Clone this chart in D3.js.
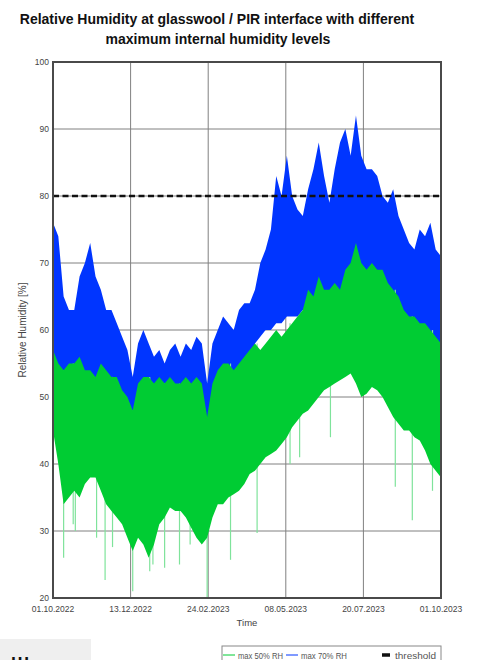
<!DOCTYPE html>
<html>
<head>
<meta charset="utf-8">
<script src="https://cdn.jsdelivr.net/npm/d3@7"></script>
<style>
  body { margin: 0; background: #fff; }
  text { font-family: "Liberation Sans", Arial, sans-serif; }
</style>
</head>
<body>
<svg id="chart" width="479" height="660"></svg>
<script>
// sample step in days, series (local low / high per 5 days)
var stepDays = 5
var startDate = new Date(2022, 9, 1)
var endDate = new Date(2023, 9, 1)

var blueHi = [76, 74, 65, 63, 63, 68, 70, 73, 68, 66, 63, 63, 61, 59, 57, 53, 58, 60, 58, 56,
  57, 55, 57, 58, 56, 58, 57, 59, 58, 52, 58, 60, 62, 61, 60, 63, 64, 64, 66, 70,
  72, 75, 83, 80, 86, 80, 78, 77, 81, 84, 88, 83, 79, 84, 88, 90, 86, 92, 86, 84,
  84, 83, 80, 79, 81, 77, 75, 73, 72, 75, 74, 76, 72, 71]
var blueLo = [54, 52, 51, 52, 52, 53, 51, 51, 50, 52, 51, 50, 50, 48, 47, 45, 49, 50, 50, 49,
  50, 49, 50, 49, 49, 50, 49, 50, 49, 45, 49, 51, 52, 52, 51, 52, 53, 55, 58, 59,
  60, 60, 61, 61, 62, 62, 62, 63, 63, 63, 64, 64, 64, 64, 64, 65, 65, 66, 65, 64,
  64, 64, 63, 63, 62, 61, 60, 59, 58, 58, 57, 56, 55, 55]
var greenHi = [57, 55, 54, 55, 55, 56, 54, 54, 53, 55, 54, 53, 53, 51, 50, 48, 52, 53, 53, 52,
  53, 52, 53, 52, 52, 53, 52, 53, 52, 47, 52, 54, 55, 55, 54, 55, 56, 57, 58, 57,
  58, 59, 60, 59, 60, 61, 62, 63, 66, 65, 68, 66, 66, 67, 66, 69, 70, 73, 70, 69,
  70, 69, 69, 67, 66, 65, 63, 62, 62, 61, 61, 60, 59, 58]
var greenLo = [45, 40, 34, 35, 36, 35, 37, 38, 38, 36, 34, 33, 32, 31, 29, 27, 29, 28, 26, 28,
  31, 32, 33.5, 33, 33, 32, 30.5, 29, 28, 29, 32, 34, 34, 35, 35.5, 36, 37, 38.5, 39, 40,
  41, 41.5, 42, 43, 44, 45.5, 46.5, 47.5, 48, 49, 50, 51, 51.5, 52, 52.5, 53, 53.5, 52, 50, 50.5,
  51.5, 51, 50, 48.5, 47, 46, 45, 45, 44, 43.5, 42, 40, 39, 38]

// single deep dips of the 50% run (day offset, value)
var dipDays = [10, 19, 21, 41, 49, 56, 75, 91, 94, 105, 119, 129, 145, 167, 192, 223, 232, 261, 322, 338, 357]
var dipValues = [26, 31, 30, 29, 22.7, 27.6, 21, 24, 25, 24.5, 25, 28, 20.1, 25.7, 29.7, 40, 41, 44, 36.6, 31.6, 36]

var threshold = 80
var tickDates = [new Date(2022, 9, 1), new Date(2022, 11, 13), new Date(2023, 1, 24),
  new Date(2023, 4, 8), new Date(2023, 6, 20), new Date(2023, 9, 1)]
var tickLabels = ["01.10.2022", "13.12.2022", "24.02.2023", "08.05.2023", "20.07.2023", "01.10.2023"]
var yTicks = [20, 30, 40, 50, 60, 70, 80, 90, 100]

var plotLeft = 53, plotRight = 441, plotTop = 62, plotBottom = 598
var blue = "#0035ff", green = "#00cc33"

var svg = d3.select("#chart")

function dayToDate(d) { return d3.timeDay.offset(startDate, d) }

var x = d3.scaleTime().domain([startDate, endDate]).range([plotLeft, plotRight])
var y = d3.scaleLinear().domain([20, 100]).range([plotBottom, plotTop])

// title
svg.append("text").attr("x", 217).attr("y", 24).attr("text-anchor", "middle")
  .attr("font-size", 14).attr("font-weight", "bold").attr("fill", "#111")
  .text("Relative Humidity at glasswool / PIR interface with different")
svg.append("text").attr("x", 218).attr("y", 44).attr("text-anchor", "middle")
  .attr("font-size", 14).attr("font-weight", "bold").attr("fill", "#111")
  .text("maximum internal humidity levels")

// grid (behind the data)
var grid = svg.append("g").attr("stroke", "#808080").attr("stroke-width", 1)
grid.selectAll(".hg").data(yTicks.slice(1, -1)).enter().append("line")
  .attr("x1", plotLeft).attr("x2", plotRight)
  .attr("y1", d => y(d)).attr("y2", d => y(d))
grid.selectAll(".vg").data(tickDates.slice(1, -1)).enter().append("line")
  .attr("y1", plotTop).attr("y2", plotBottom)
  .attr("x1", d => x(d)).attr("x2", d => x(d))

var idx = d3.range(blueHi.length)

var area = function (lo, hi) {
  return d3.area()
    .x(i => x(dayToDate(i * stepDays)))
    .y0(i => y(lo[i]))
    .y1(i => y(hi[i]))
}

svg.append("path").attr("fill", blue).attr("d", area(blueLo, blueHi)(idx))

// deep dips as thin light lines
svg.append("g").selectAll("line").data(dipDays).enter().append("line")
  .attr("x1", d => x(dayToDate(d))).attr("x2", d => x(dayToDate(d)))
  .attr("y1", (d, i) => y(dipValues[i]))
  .attr("y2", d => y(greenHi[Math.round(d / stepDays)]))
  .attr("stroke", "#7fe39b").attr("stroke-width", 1.2)

svg.append("path").attr("fill", green).attr("d", area(greenLo, greenHi)(idx))

// threshold
svg.append("line").attr("x1", plotLeft).attr("x2", plotRight)
  .attr("y1", y(threshold)).attr("y2", y(threshold))
  .attr("stroke", "#111").attr("stroke-width", 2.5).attr("stroke-dasharray", "6,3.5")

// frame
svg.append("rect").attr("x", plotLeft).attr("y", plotTop)
  .attr("width", plotRight - plotLeft).attr("height", plotBottom - plotTop)
  .attr("fill", "none").attr("stroke", "#4a4a4a").attr("stroke-width", 2)

// y tick labels
svg.append("g").selectAll("text").data(yTicks).enter().append("text")
  .attr("x", 49).attr("y", d => y(d) + 3).attr("text-anchor", "end")
  .attr("font-size", 8.5).attr("fill", "#444").text(d => d)

// x tick labels
svg.append("g").selectAll("text").data(tickDates).enter().append("text")
  .attr("x", d => x(d)).attr("y", 612).attr("text-anchor", "middle")
  .attr("font-size", 8.5).attr("fill", "#444").text((d, i) => tickLabels[i])

svg.append("text").attr("x", 247).attr("y", 626).attr("text-anchor", "middle")
  .attr("font-size", 9.5).attr("fill", "#444").text("Time")

svg.append("text").attr("transform", "translate(26,330) rotate(-90)")
  .attr("text-anchor", "middle").attr("font-size", 10).attr("fill", "#444")
  .text("Relative Humidity [%]")

// legend
var lg = svg.append("g")
lg.append("rect").attr("x", 222).attr("y", 646).attr("width", 219).attr("height", 20)
  .attr("fill", "#fff").attr("stroke", "#888").attr("stroke-width", 1)
var legendItems = [
  { label: "max 50% RH", color: green, x: 223, w: 12, sw: 1, tx: 238, tw: 45 },
  { label: "max 70% RH", color: blue, x: 286, w: 12, sw: 1, tx: 301, tw: 46 },
  { label: "threshold", color: "#111", x: 382, w: 8, sw: 3.5, tx: 395, tw: 41 }
]
legendItems.forEach(function (it) {
  lg.append("line").attr("x1", it.x).attr("x2", it.x + it.w)
    .attr("y1", 655).attr("y2", 655)
    .attr("stroke", it.color).attr("stroke-width", it.sw)
  lg.append("text").attr("x", it.tx).attr("y", 658.5)
    .attr("font-size", 9).attr("fill", "#555")
    .attr("textLength", it.tw).attr("lengthAdjust", "spacingAndGlyphs")
    .text(it.label)
})

// leftover panel at the bottom left
svg.append("rect").attr("x", 0).attr("y", 639).attr("width", 91).attr("height", 21).attr("fill", "#efefef")
svg.append("text").attr("x", 11).attr("y", 670).attr("font-size", 18).attr("font-weight", "bold")
  .attr("fill", "#111").text("Ш")
</script>
</body>
</html>
